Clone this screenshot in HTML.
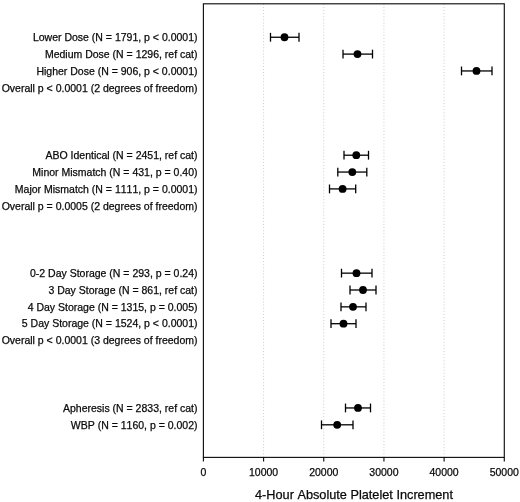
<!DOCTYPE html>
<html><head><meta charset="utf-8"><title>4-Hour Absolute Platelet Increment</title>
<style>html,body{margin:0;padding:0;background:#fff;}svg{display:block;}text{font-family:"Liberation Sans",Arial,Helvetica,sans-serif;fill:#0a0a0a;stroke:#0a0a0a;stroke-width:0.25;font-kerning:none;}</style></head><body>
<svg width="520" height="502" viewBox="0 0 520 502">
<rect x="0" y="0" width="520" height="502" fill="#ffffff"/>
<line x1="263.58" y1="3.8" x2="263.58" y2="457.4" stroke="#cfcfcf" stroke-width="1" stroke-dasharray="1.1,2"/>
<line x1="323.76" y1="3.8" x2="323.76" y2="457.4" stroke="#cfcfcf" stroke-width="1" stroke-dasharray="1.1,2"/>
<line x1="383.94" y1="3.8" x2="383.94" y2="457.4" stroke="#cfcfcf" stroke-width="1" stroke-dasharray="1.1,2"/>
<line x1="444.12" y1="3.8" x2="444.12" y2="457.4" stroke="#cfcfcf" stroke-width="1" stroke-dasharray="1.1,2"/>
<rect x="203.4" y="3.8" width="300.9" height="453.59999999999997" fill="none" stroke="#111" stroke-width="1.15"/>
<line x1="203.40" y1="457.4" x2="203.40" y2="461.5" stroke="#111" stroke-width="1.15"/>
<text x="203.40" y="475.95" font-size="10.5" text-anchor="middle">0</text>
<line x1="263.58" y1="457.4" x2="263.58" y2="461.5" stroke="#111" stroke-width="1.15"/>
<text x="263.58" y="475.95" font-size="10.5" text-anchor="middle">10000</text>
<line x1="323.76" y1="457.4" x2="323.76" y2="461.5" stroke="#111" stroke-width="1.15"/>
<text x="323.76" y="475.95" font-size="10.5" text-anchor="middle">20000</text>
<line x1="383.94" y1="457.4" x2="383.94" y2="461.5" stroke="#111" stroke-width="1.15"/>
<text x="383.94" y="475.95" font-size="10.5" text-anchor="middle">30000</text>
<line x1="444.12" y1="457.4" x2="444.12" y2="461.5" stroke="#111" stroke-width="1.15"/>
<text x="444.12" y="475.95" font-size="10.5" text-anchor="middle">40000</text>
<line x1="504.30" y1="457.4" x2="504.30" y2="461.5" stroke="#111" stroke-width="1.15"/>
<text x="504.30" y="475.95" font-size="10.5" text-anchor="middle">50000</text>
<text x="354.0" y="498.5" font-size="12.72" text-anchor="middle">4-Hour Absolute Platelet Increment</text>
<text x="197.5" y="41.00" font-size="10.5" text-anchor="end">Lower Dose (N = 1791, p &lt; 0.0001)</text>
<g stroke="#000" stroke-width="1.3" fill="none"><line x1="270.5" y1="37.25" x2="299" y2="37.25"/><line x1="270.5" y1="32.85" x2="270.5" y2="41.65"/><line x1="299" y1="32.85" x2="299" y2="41.65"/></g>
<circle cx="284.5" cy="37.25" r="3.9" fill="#000"/>
<text x="197.5" y="57.85" font-size="10.5" text-anchor="end">Medium Dose (N = 1296, ref cat)</text>
<g stroke="#000" stroke-width="1.3" fill="none"><line x1="343" y1="54.10" x2="372.5" y2="54.10"/><line x1="343" y1="49.70" x2="343" y2="58.50"/><line x1="372.5" y1="49.70" x2="372.5" y2="58.50"/></g>
<circle cx="357.5" cy="54.10" r="3.9" fill="#000"/>
<text x="197.5" y="74.70" font-size="10.5" text-anchor="end">Higher Dose (N = 906, p &lt; 0.0001)</text>
<g stroke="#000" stroke-width="1.3" fill="none"><line x1="461.5" y1="70.95" x2="492" y2="70.95"/><line x1="461.5" y1="66.55" x2="461.5" y2="75.35"/><line x1="492" y1="66.55" x2="492" y2="75.35"/></g>
<circle cx="476.5" cy="70.95" r="3.9" fill="#000"/>
<text x="197.5" y="91.55" font-size="10.5" text-anchor="end">Overall p &lt; 0.0001 (2 degrees of freedom)</text>
<text x="197.5" y="158.95" font-size="10.5" text-anchor="end">ABO Identical (N = 2451, ref cat)</text>
<g stroke="#000" stroke-width="1.3" fill="none"><line x1="344" y1="155.20" x2="368.5" y2="155.20"/><line x1="344" y1="150.80" x2="344" y2="159.60"/><line x1="368.5" y1="150.80" x2="368.5" y2="159.60"/></g>
<circle cx="356.3" cy="155.20" r="3.9" fill="#000"/>
<text x="197.5" y="175.80" font-size="10.5" text-anchor="end">Minor Mismatch (N = 431, p = 0.40)</text>
<g stroke="#000" stroke-width="1.3" fill="none"><line x1="337.8" y1="172.05" x2="366.8" y2="172.05"/><line x1="337.8" y1="167.65" x2="337.8" y2="176.45"/><line x1="366.8" y1="167.65" x2="366.8" y2="176.45"/></g>
<circle cx="352.3" cy="172.05" r="3.9" fill="#000"/>
<text x="197.5" y="192.65" font-size="10.5" text-anchor="end">Major Mismatch (N = 1111, p = 0.0001)</text>
<g stroke="#000" stroke-width="1.3" fill="none"><line x1="329.5" y1="188.90" x2="355.7" y2="188.90"/><line x1="329.5" y1="184.50" x2="329.5" y2="193.30"/><line x1="355.7" y1="184.50" x2="355.7" y2="193.30"/></g>
<circle cx="342.6" cy="188.90" r="3.9" fill="#000"/>
<text x="197.5" y="209.50" font-size="10.5" text-anchor="end">Overall p = 0.0005 (2 degrees of freedom)</text>
<text x="197.5" y="276.90" font-size="10.5" text-anchor="end">0-2 Day Storage (N = 293, p = 0.24)</text>
<g stroke="#000" stroke-width="1.3" fill="none"><line x1="341.5" y1="273.15" x2="372" y2="273.15"/><line x1="341.5" y1="268.75" x2="341.5" y2="277.55"/><line x1="372" y1="268.75" x2="372" y2="277.55"/></g>
<circle cx="356.5" cy="273.15" r="3.9" fill="#000"/>
<text x="197.5" y="293.75" font-size="10.5" text-anchor="end">3 Day Storage (N = 861, ref cat)</text>
<g stroke="#000" stroke-width="1.3" fill="none"><line x1="350" y1="290.00" x2="376" y2="290.00"/><line x1="350" y1="285.60" x2="350" y2="294.40"/><line x1="376" y1="285.60" x2="376" y2="294.40"/></g>
<circle cx="363" cy="290.00" r="3.9" fill="#000"/>
<text x="197.5" y="310.60" font-size="10.5" text-anchor="end">4 Day Storage (N = 1315, p = 0.005)</text>
<g stroke="#000" stroke-width="1.3" fill="none"><line x1="341" y1="306.85" x2="366" y2="306.85"/><line x1="341" y1="302.45" x2="341" y2="311.25"/><line x1="366" y1="302.45" x2="366" y2="311.25"/></g>
<circle cx="353" cy="306.85" r="3.9" fill="#000"/>
<text x="197.5" y="327.45" font-size="10.5" text-anchor="end">5 Day Storage (N = 1524, p &lt; 0.0001)</text>
<g stroke="#000" stroke-width="1.3" fill="none"><line x1="331" y1="323.70" x2="356" y2="323.70"/><line x1="331" y1="319.30" x2="331" y2="328.10"/><line x1="356" y1="319.30" x2="356" y2="328.10"/></g>
<circle cx="343.5" cy="323.70" r="3.9" fill="#000"/>
<text x="197.5" y="344.30" font-size="10.5" text-anchor="end">Overall p &lt; 0.0001 (3 degrees of freedom)</text>
<text x="197.5" y="411.70" font-size="10.5" text-anchor="end">Apheresis (N = 2833, ref cat)</text>
<g stroke="#000" stroke-width="1.3" fill="none"><line x1="345.5" y1="407.95" x2="370.5" y2="407.95"/><line x1="345.5" y1="403.55" x2="345.5" y2="412.35"/><line x1="370.5" y1="403.55" x2="370.5" y2="412.35"/></g>
<circle cx="358" cy="407.95" r="3.9" fill="#000"/>
<text x="197.5" y="428.55" font-size="10.5" text-anchor="end">WBP (N = 1160, p = 0.002)</text>
<g stroke="#000" stroke-width="1.3" fill="none"><line x1="321.5" y1="424.80" x2="353" y2="424.80"/><line x1="321.5" y1="420.40" x2="321.5" y2="429.20"/><line x1="353" y1="420.40" x2="353" y2="429.20"/></g>
<circle cx="337.2" cy="424.80" r="3.9" fill="#000"/>
</svg></body></html>
